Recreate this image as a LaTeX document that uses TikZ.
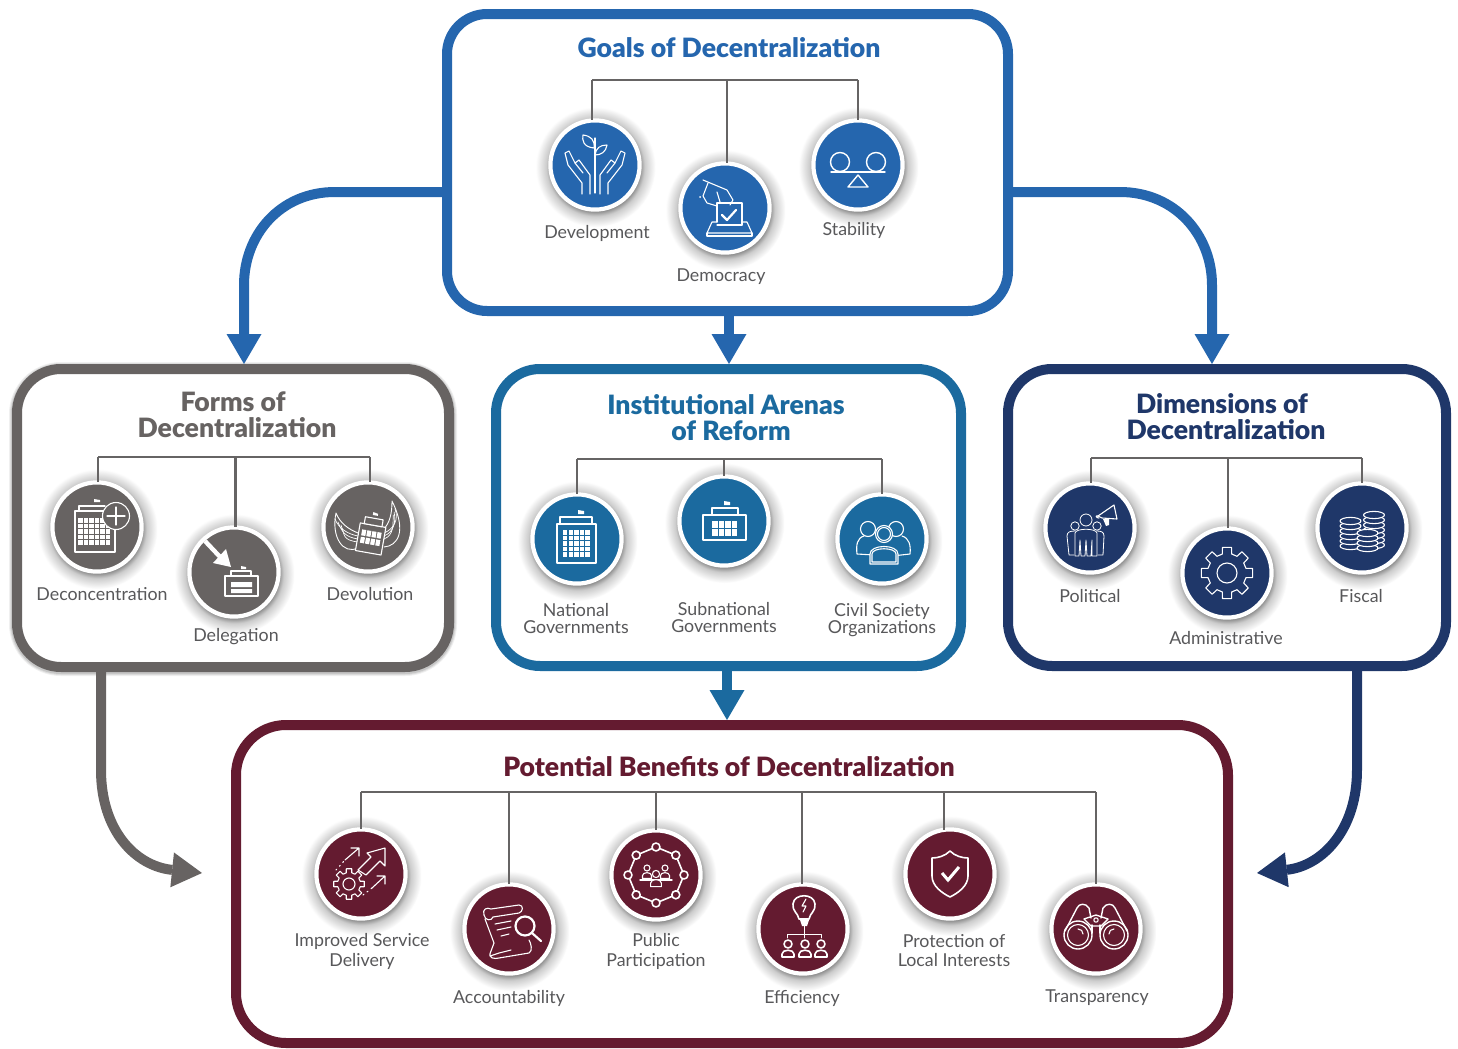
\documentclass[tikz,border=0pt]{standalone}
\usepackage{fontspec}
\setmainfont{Lato}
\newfontfamily\ttlfont{Lato Black}
\usetikzlibrary{arrows.meta,calc,shapes.misc}
\definecolor{cblue}{HTML}{2566AE}
\definecolor{cteal}{HTML}{1B6A9F}
\definecolor{cnavy}{HTML}{1F3769}
\definecolor{cgray}{HTML}{676362}
\definecolor{cmaro}{HTML}{641B30}
\definecolor{cline}{HTML}{666464}
\definecolor{ctext}{HTML}{58585A}
\pgfdeclareradialshading{discshadow}{\pgfpoint{0bp}{0bp}}{color(0bp)=(black!50); color(18bp)=(black!50); color(20.5bp)=(black!20); color(25bp)=(white); color(50bp)=(white)}
\tikzset{
  x=0.5pt,y=-0.5pt,
  frame/.style={draw=#1,line width=5pt,fill=white,rounded corners=21pt,inner sep=0pt,outer sep=2.5pt},
  disc/.style={circle,draw=white,line width=2.1pt,fill=#1,inner sep=0pt,minimum size=44.6pt,outer sep=0pt},
  bus/.style={draw=cline,line width=1.25pt,line cap=butt,line join=miter},
  flow/.style={draw=#1,line width=5pt,-{Triangle[width=17.5pt,length=15pt,fill=#1,line width=0pt,round=false]}},
  ttl/.style={text=#1,font=\fontsize{13.3}{13}\ttlfont,align=center,inner sep=0pt},
  lbl/.style={text=ctext,font=\fontsize{8.9}{8.5}\selectfont,align=center,inner sep=0pt,yshift=-0.5pt},
  lblb/.style={text=ctext,font=\fontsize{8.9}{9.6}\selectfont,align=center,inner sep=0pt,yshift=-0.5pt},
  ic/.style={draw=white,line width=0.55pt,line cap=round,line join=round},
  icb/.style={draw=white,line width=1.1pt,line cap=round,line join=round},
}
\newcommand{\shdw}[1]{\shade[shading=discshadow] ($(#1)+(0.5,2)$) circle (60);}
\newcommand{\circlenode}[3]{\shdw{#2}\node[disc=#3] (#1) at (#2) {};}
\newcommand{\cells}[8]{\foreach \ii in {1,...,#3}\foreach \jj in {1,...,#4}\fill[white] ({#1+(\ii-1)*#5},{#2+(\jj-1)*#6}) rectangle +(#7,#8);}
\newcommand{\person}[4]{% x y scale fillcolor
  \path[ic,fill=#4] ({#1-6*#3},{#2+14*#3}) -- ({#1-6*#3},{#2+10*#3}) .. controls ({#1-6*#3},{#2+5*#3}) and ({#1+6*#3},{#2+5*#3}) .. ({#1+6*#3},{#2+10*#3}) -- ({#1+6*#3},{#2+14*#3}) -- cycle;
  \path[ic,fill=#4] (#1,#2) circle ({4*#3});}
\newcommand{\gearshape}[7]{% cx cy ro ri hole col style
  \path[#7,fill=#6] \foreach \kk [count=\nn] in {0,45,...,315}{ \ifnum\nn=1 ({#1+#4*cos(\kk-14)},{#2+#4*sin(\kk-14)}) \else -- ({#1+#4*cos(\kk-14)},{#2+#4*sin(\kk-14)}) \fi -- ({#1+#3*cos(\kk-10)},{#2+#3*sin(\kk-10)}) -- ({#1+#3*cos(\kk+10)},{#2+#3*sin(\kk+10)}) -- ({#1+#4*cos(\kk+14)},{#2+#4*sin(\kk+14)}) } -- cycle;
  \path[#7] (#1,#2) circle (#5);}
\newcommand{\coins}[4]{% cx ytop ybot rx  (step 5)
  \pgfmathsetmacro{\ysec}{#3-5}
  \foreach \yc in {#3,\ysec,...,#2}{\path[ic,fill=ibg] (#1,\yc) ellipse (#4 and 3.6);}}
\begin{document}
\begin{tikzpicture}
\useasboundingbox (0,0) rectangle (1458,1049);
% ---- frames
\foreach \fx/\fy/\fw/\fh/\fc/\fr in {233/518/432/298/cgray/22}{
  \foreach \wd/\op in {8/.06,7/.08,6/.1}{
    \draw[black,opacity=\op,line width=\wd pt,rounded corners=\fr pt] ({\fx-\fw/2},{\fy-\fh/2+1}) rectangle ({\fx+\fw/2},{\fy+\fh/2+1});
  }
}
\node[frame=cblue,rounded corners=20pt,minimum width=280.5pt,minimum height=148.5pt] (goals) at (727.5,162.5) {};
\node[frame=cgray,rounded corners=22pt,minimum width=216pt,minimum height=149pt] (forms) at (233,518) {};
\node[frame=cteal,rounded corners=22pt,minimum width=232.5pt,minimum height=148.5pt] (inst) at (728.5,517.5) {};
\node[frame=cnavy,rounded corners=22pt,minimum width=219pt,minimum height=148.5pt] (dims) at (1227,517.5) {};
\node[frame=cmaro,rounded corners=25pt,minimum width=496pt,minimum height=159pt] (bene) at (732,884) {};
% ---- flow arrows
\coordinate (ya) at (0,192);
\coordinate (xc) at (729,0);
\coordinate (xd) at (727,0);
\coordinate (xl) at (244,0);
\coordinate (xr) at (1212,0);
\coordinate (xg) at (101,0);
\coordinate (xn) at (1357,0);
\coordinate (gt) at (202,873);
\coordinate (nt) at (1257,873);
\draw[flow=cblue] (goals.west |- ya) -- (335,192) .. controls (280,192) and (244,235) .. (244,285) -- (forms.north -| xl);
\draw[flow=cblue] (goals.east |- ya) -- (1120,192) .. controls (1175,192) and (1212,235) .. (1212,285) -- (dims.north -| xr);
\draw[flow=cblue] (goals.south -| xc) -- (inst.north -| xc);
\draw[flow=cteal] (inst.south -| xd) -- (bene.north -| xd);
\draw[flow=cgray] (forms.south -| xg) -- (101,770) .. controls (101,830) and (135,866) .. (gt);
\draw[flow=cnavy] (dims.south -| xn) -- (1357,770) .. controls (1357,830) and (1322,866) .. (nt);
% ---- goals
\node[ttl=cblue] (tg) at (729,48) {Goals of Decentralization};
\circlenode{dev}{595,165}{cblue}
\circlenode{dem}{725,208}{cblue}
\circlenode{sta}{858,165}{cblue}
\coordinate (g1) at (592,80); \coordinate (g2) at (727,80); \coordinate (g3) at (858,80);
\draw[bus] (g1) -- (g3);
\draw[bus] (g1) -- (g1 |- dev.north); \draw[bus] (g2) -- (g2 |- dem.north); \draw[bus] (g3) -- (g3 |- sta.north);
\node[lbl] (ldev) at (597,232) {Development};
\node[lbl] (ldem) at (721,276) {Democracy};
\node[lbl] (lsta) at (854,229) {Stability};
\begin{scope}[shift={(dev.center)}]
  \draw[ic] (0,-27) -- (0,28);
  \draw[ic] (-1,-17) .. controls (-12,-18) and (-13,-25) .. (-12,-30) .. controls (-4,-29) and (0,-25) .. (-1,-17);
  \draw[ic] (0,-10) .. controls (1,-17) and (5,-20) .. (12,-20) .. controls (11,-13) and (6,-10) .. (0,-10);
  \foreach \sx in {1,-1}{
    \draw[ic,xscale=\sx] (-13,29) -- (-13,18) -- (-27,0) -- (-30,-12) -- (-26,-14) -- (-20,-2) -- (-16,-5) -- (-5,10) -- (-5,29);
    \draw[ic,xscale=\sx] (-20,-2) -- (-12,8);
  }
\end{scope}
\begin{scope}[shift={(dem.center)}]
  \draw[ic] (-8,14) -- (-8,-5) -- (17,-5) -- (17,17);
  \draw[ic] (-8,17) -- (17,17);
  \draw[ic] (-8,14) -- (-13,14) -- (-18,25) -- (27,25) -- (22,14) -- (17,14);
  \draw[ic] (-18,25) -- (-18,28) -- (27,28) -- (27,25);
  \draw[icb] (-3,7) -- (2,12) -- (11,2);
  \draw[ic] (-22,-28) -- (2,-18) -- (8,-8) -- (5,-3);
  \draw[ic] (-17,-25) -- (-22,-12) -- (-18,-5) -- (-8,-2);
  \draw[ic] (-8,-16) -- (-5,-6);
  \fill[white] (-25,-11) circle (1);
\end{scope}
\begin{scope}[shift={(sta.center)}]
  \draw[ic,line width=.7pt] (-18,-3) circle (9.5) (18,-3) circle (9.5);
  \draw[ic,line width=.7pt] (-27,7) -- (27,7);
  \draw[ic,line width=.7pt] (0,10) -- (-10,22) -- (10,22) -- cycle;
\end{scope}
% ---- forms
\node[ttl=cgray] (tf) at (237,415) {Forms of\hspace*{4pt}\\Decentralization};
\circlenode{dec}{97,527}{cgray}
\circlenode{del}{234,572}{cgray}
\circlenode{dvl}{368,527}{cgray}
\coordinate (f1) at (98,457); \coordinate (f2) at (235.5,457); \coordinate (f3) at (370,457);
\draw[bus] (f1) -- (f3);
\draw[bus] (f1) -- (f1 |- dec.north); \draw[bus] (f2) -- (f2 |- del.north); \draw[bus] (f3) -- (f3 |- dvl.north);
\node[lbl] (ldec) at (102,593.5) {Deconcentration};
\node[lbl] (ldel) at (236,636) {Delegation};
\node[lbl] (ldvl) at (370,593.5) {Devolution};
\begin{scope}[shift={(dec.center)}]
  \draw[ic] (-18,-16) -- (-18,-21) -- (8,-21);
  \draw[ic] (-22,-16) rectangle (18,25);
  \cells{-19}{-9}{6}{5}{5.5}{5.6}{4.6}{4.6}
  \fill[white] (-3,-28) -- (3,-27) -- (3,-25) -- (-3,-25) -- cycle;
  \path[ic,fill=cgray] (19,-11) circle (13.5);
  \draw[ic] (10,-11) -- (28,-11) (19,-20) -- (19,-2);
\end{scope}
\begin{scope}[shift={(del.center)}]
  \draw[white,line width=2.2pt] (-29,-31) -- (-12,-13);
  \fill[white] (-3,-5) -- (-8,-23) -- (-21,-9) -- cycle;
  \draw[ic] (-3,4) -- (-3,-1) -- (17,-1) -- (17,4);
  \draw[ic] (-9,4) rectangle (24,24);
  \fill[white] (-3,10) rectangle (18,15) (-3,17) rectangle (18,21);
  \fill[white] (7,-6) -- (12,-5) -- (12,-3) -- (7,-3) -- cycle;
\end{scope}
\begin{scope}[shift={(dvl.center)}]
  \draw[ic,line width=.45pt] (-10,21) .. controls (-25,28) and (-37,10) .. (-32,-14) .. controls (-28,-4) and (-20,2) .. (-10,6);
  \draw[ic,line width=.45pt] (16,20) .. controls (30,19) and (39,4) .. (24,-26) .. controls (24,-14) and (22,-4) .. (15,3);
  \foreach \s in {0,3,6}{
   \draw[ic,line width=.35pt] (-10,{9+\s}) .. controls ({-20-\s},{7+\s}) and ({-29+\s},{2+\s}) .. ({-33+\s},{-8+\s});
   \draw[ic,line width=.35pt] (16,{6+\s}) .. controls ({26},{2+\s}) and ({31-\s},{-8+\s}) .. ({27-\s*.3},{-18+\s});
  }
  \begin{scope}[shift={(3,10)},rotate=-10]
    \path[ic,fill=cgray] (-13,-12) rectangle (13,16);
    \path[ic,fill=cgray] (-9,-19) rectangle (9,-12);
    \cells{-10}{-6}{4}{2}{5.2}{7.5}{4.2}{6}
    \fill[white] (-2,-25) -- (3,-24) -- (3,-22) -- (-2,-22) -- cycle;
  \end{scope}
\end{scope}
% ---- institutional
\node[ttl=cteal] (ti) at (726,417.5) {Institutional Arenas\\\hspace*{5pt}of Reform};
\circlenode{nat}{577,539}{cteal}
\circlenode{sub}{724,521}{cteal}
\circlenode{civ}{882,539}{cteal}
\coordinate (i1) at (577,459); \coordinate (i2) at (724,459); \coordinate (i3) at (882,459);
\draw[bus] (i1) -- (i3);
\draw[bus] (i1) -- (i1 |- nat.north); \draw[bus] (i2) -- (i2 |- sub.north); \draw[bus] (i3) -- (i3 |- civ.north);
\node[lbl] (lnat) at (576,618) {National\\Governments};
\node[lbl] (lsub) at (724,617) {Subnational\\Governments};
\node[lbl] (lciv) at (882,619) {Civil Society\\Organizations};
\begin{scope}[shift={(nat.center)}]
  \draw[ic] (-20,-15) rectangle (19,24);
  \draw[ic] (-17,-15) -- (-17,-22) -- (15,-22) -- (15,-15);
  \cells{-14}{-9}{5}{5}{5.6}{5.6}{4.4}{4.6}
  \fill[white] (1,-29) -- (7,-28) -- (7,-25) -- (1,-25) -- cycle;
\end{scope}
\begin{scope}[shift={(sub.center)}]
  \draw[ic] (-21,-6) rectangle (22,19);
  \draw[ic] (-12,-6) -- (-12,-13) -- (14,-13) -- (14,-6);
  \cells{-12}{0}{4}{2}{6.5}{8}{5.5}{7}
  \fill[white] (0,-20) -- (6,-19) -- (6,-16) -- (0,-16) -- cycle;
\end{scope}
\begin{scope}[shift={(civ.center)}]
  \draw[ic] (-14,-10) circle (7.5);
  \draw[ic] (14,-10) circle (7.5);
  \draw[ic] (-8,16) -- (-25,15) .. controls (-26,6) and (-25,-1) .. (-18,-3);
  \draw[ic] (10,17) -- (28,15) .. controls (29,6) and (27,-1) .. (20,-3);
  \path[ic,fill=cteal] (-12,25) -- (-12,15) .. controls (-12,5) and (16,5) .. (16,15) -- (16,25) -- cycle;
  \draw[ic] (-10,23) -- (-10,15) .. controls (-10,8) and (14,8) .. (14,15) -- (14,23) -- cycle;
  \path[ic,fill=cteal] (2,-5) circle (8.5);
  \draw[ic] (2,-5) circle (6.5);
\end{scope}
% ---- dimensions
\node[ttl=cnavy] (td) at (1226,416.5) {Dimensions of\hspace*{4pt}\\Decentralization};
\circlenode{pol}{1090,528}{cnavy}
\circlenode{adm}{1227,573}{cnavy}
\circlenode{fis}{1362,528}{cnavy}
\coordinate (d1) at (1091,458); \coordinate (d2) at (1228,458); \coordinate (d3) at (1362,458);
\draw[bus] (d1) -- (d3);
\draw[bus] (d1) -- (d1 |- pol.north); \draw[bus] (d2) -- (d2 |- adm.north); \draw[bus] (d3) -- (d3 |- fis.north);
\node[lbl] (lpol) at (1090,595.5) {Political};
\node[lbl] (ladm) at (1226,637.5) {Administrative};
\node[lbl] (lfis) at (1361,595.5) {Fiscal};
\begin{scope}[shift={(pol.center)}]
  \draw[ic,line width=.4pt] (-15,-2) circle (4.2);
  \draw[ic,line width=.4pt] (7,-2) circle (4.2);
  \draw[ic,line width=.4pt] (-16,27) -- (-21,27) -- (-23,8) .. controls (-23,4) and (-20,3) .. (-15,3);
  \draw[ic,line width=.4pt] (8,27) -- (13,27) -- (14,8) .. controls (14,4) and (11,3) .. (7,3);
  \path[ic,line width=.4pt,fill=cnavy] (-15,28) -- (-15,5) .. controls (-14,0) and (6,0) .. (7,5) -- (7,28) -- (2,28) -- (2,12) -- (1,28) -- (-3,28) -- (-4,12) -- (-5,28) -- (-9,28) -- (-10,12) -- (-11,28) -- cycle;
  \path[ic,line width=.4pt,fill=cnavy] (-4,-8) circle (6);
  \draw[ic] (8,-12) -- (24,-23) -- (27,-9) -- (12,-10) -- cycle;
  \draw[ic] (8,-12) .. controls (5,-13) and (6,-10) .. (9,-10);
  \fill[white] (13,-9) -- (19,-9) -- (19,-3) -- (16,-2) -- cycle;
\end{scope}
\gearshape{1227}{573}{26}{19.5}{10}{none}{ic}
\begin{scope}[shift={(fis.center)}]
  \colorlet{ibg}{cnavy}
  \coins{12}{-14}{17}{10.5}
  \coins{-11.5}{-10}{18}{10.5}
  \coins{5.5}{3}{20}{10.5}
\end{scope}
% ---- benefits
\node[ttl=cmaro] (tb) at (729,767) {Potential Benefits of Decentralization};
\circlenode{isd}{361,874}{cmaro}
\circlenode{acc}{509,929}{cmaro}
\circlenode{pub}{656,875}{cmaro}
\circlenode{eff}{803,929}{cmaro}
\circlenode{pro}{950,874}{cmaro}
\circlenode{tra}{1096,929}{cmaro}
\coordinate (b1) at (361,792); \coordinate (b2) at (509,792); \coordinate (b3) at (656,792);
\coordinate (b4) at (802,792); \coordinate (b5) at (944,792); \coordinate (b6) at (1096,792);
\draw[bus] (b1) -- (b6);
\draw[bus] (b1) -- (b1 |- isd.north); \draw[bus] (b2) -- (b2 |- acc.north); \draw[bus] (b3) -- (b3 |- pub.north);
\draw[bus] (b4) -- (b4 |- eff.north); \draw[bus] (b5) -- ($(pro.north)+(-6,0.8)$); \draw[bus] (b6) -- (b6 |- tra.north);
\node[lblb] (lisd) at (362,950.5) {Improved Service\\Delivery};
\node[lblb] (lacc) at (509,997) {Accountability};
\node[lblb] (lpub) at (656,950.5) {Public\\Participation};
\node[lblb] (leff) at (802,997) {Efficiency};
\node[lblb] (lpro) at (954,949.5) {Protection of\\Local Interests};
\node[lblb] (ltra) at (1097,997) {Transparency};
\gearshape{349}{884}{15.5}{11.5}{6}{none}{ic}
\begin{scope}[shift={(isd.center)}]
  \draw[ic] (-3,-4) -- (10,-17) -- (6,-21) -- (24,-26) -- (24,-8) -- (19,-13) -- (5,1) -- cycle;
  \draw[ic] (-16,-14) -- (-2,-26) (-10,-26) -- (-2,-26) -- (-2,-18);
  \draw[ic] (11,14) -- (24,2) (16,2) -- (24,2) -- (24,10);
  \draw[ic,dotted] (-25,-4) -- (-16,-14);
  \draw[ic,dotted] (2,21) -- (11,14);
\end{scope}
\begin{scope}[shift={(acc.center)}]
  \draw[ic] (-25,-14) .. controls (-27,-20) and (-22,-22) .. (-18,-20) -- (10,-24) .. controls (15,-24) and (14,-17) .. (10,-16) -- (-16,-12);
  \draw[ic] (-25,-14) .. controls (-24,-8) and (-17,-8) .. (-16,-12);
  \draw[ic] (-24,-10) -- (-15,14) -- (-18,22) .. controls (-22,30) and (-14,30) .. (-10,29) -- (20,24) .. controls (24,22) and (22,14) .. (20,11);
  \draw[ic] (-19,27) -- (-10,24) -- (2,21);
  \draw[ic] (-14,-5) -- (2,-8) (-12,1) -- (2,-2) (-8,7) -- (0,5);
  \draw[icb] (16,-3) circle (9.5);
  \draw[icb] (23,4) -- (32,12);
\end{scope}
\begin{scope}[shift={(pub.center)}]
  \draw[ic,line width=.8pt] (0:28) \foreach \a in {45,90,...,360}{ -- (\a:28)};
  \foreach \a in {0,45,...,315}{\path[ic,line width=.8pt,fill=cmaro] (\a:28) circle (4);}
  \person{-9}{-7}{.75}{cmaro}
  \person{9}{-7}{.75}{cmaro}
  \draw[ic,line width=.7pt] (-16,5) -- (16,5);
  \person{0}{-1}{.9}{cmaro}
\end{scope}
\begin{scope}[shift={(eff.center)}]
  \draw[ic,line width=.8pt] (-4,-10) .. controls (-5,-16) and (-11,-18) .. (-10,-25) .. controls (-9,-36) and (11,-36) .. (12,-25) .. controls (13,-18) and (7,-16) .. (6,-10) -- cycle;
  \fill[white] (-3,-9) -- (6,-9) -- (4,-3) -- (-1,-3) -- cycle;
  \draw[ic] (3,-30) -- (-1,-23) -- (3,-23) -- (0,-17);
  \draw[ic,line width=.4pt] (-16,9) -- (-16,5) -- (18,5) -- (18,9) (1,-3) -- (1,9);
  \foreach \px in {-15,2,18}{
    \path[ic,line width=.8pt] (\px,15) circle (4);
    \path[ic,line width=.8pt] ({\px-6},28) -- ({\px-6},25) .. controls ({\px-6},20) and ({\px+6},20) .. ({\px+6},25) -- ({\px+6},28) -- cycle;
  }
\end{scope}
\begin{scope}[shift={(pro.center)}]
  \draw[ic,line width=.8pt] (0,-23) .. controls (5,-18) and (12,-16) .. (18,-16) -- (18,2) .. controls (18,12) and (8,19) .. (0,23) .. controls (-8,19) and (-18,12) .. (-18,2) -- (-18,-16) .. controls (-12,-16) and (-5,-18) .. (0,-23) -- cycle;
  \draw[white,line width=1.5pt,line join=miter] (-8,-1) -- (-2,6) -- (9,-7);
\end{scope}
\begin{scope}[shift={(tra.center)}]
  \foreach \sx in {1,-1}{
    \begin{scope}[xscale=\sx]
      \draw[icb,line width=.7pt] (18,6) circle (14);
      \draw[ic] (18,6) circle (10.5);
      \draw[ic] (13,5) .. controls (13,2) and (15,0) .. (18,0);
      \draw[icb,line width=.7pt] (31,2) -- (19,-21) .. controls (17,-26) and (10,-26) .. (7,-21) -- (5,-11);
      \draw[icb,line width=.7pt] (4,-4) -- (4,4);
    \end{scope}
  }
  \draw[icb,line width=.7pt] (-12,-10) -- (0,-14) -- (12,-10) -- (5,-3) -- (-5,-3) -- cycle;
  \draw[ic] (0,-9) circle (2.2);
\end{scope}
\end{tikzpicture}
\end{document}
